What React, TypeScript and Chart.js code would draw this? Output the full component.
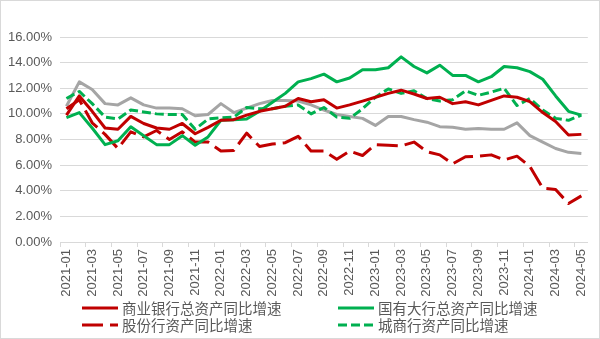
import { useEffect, useRef } from "react";
import { Chart, registerables } from "chart.js";

Chart.register(...registerables);

const months = [
  "2021-01", "2021-02", "2021-03", "2021-04", "2021-05", "2021-06", "2021-07", "2021-08", "2021-09", "2021-10", "2021-11", "2021-12",
  "2022-01", "2022-02", "2022-03", "2022-04", "2022-05", "2022-06", "2022-07", "2022-08", "2022-09", "2022-10", "2022-11", "2022-12",
  "2023-01", "2023-02", "2023-03", "2023-04", "2023-05", "2023-06", "2023-07", "2023-08", "2023-09", "2023-10", "2023-11", "2023-12",
  "2024-01", "2024-02", "2024-03", "2024-04", "2024-05",
];

const commercialBanks = [
  9.9, 11.4, 10.2, 8.9, 8.8, 9.8, 9.25, 8.9, 8.8, 9.25, 8.45, 8.95,
  9.5, 9.55, 9.9, 10.2, 10.4, 10.6, 11.2, 10.95, 11.1, 10.45, 10.7, 11.0,
  11.3, 11.6, 11.85, 11.55, 11.2, 11.3, 10.8, 10.95, 10.7, 11.05, 11.4, 11.3,
  10.95, 10.1, 9.4, 8.35, 8.4,
];

const stateOwnedBanks = [
  9.7, 10.1, 8.9, 7.6, 7.9, 9.0, 8.3, 7.6, 7.6, 8.3, 7.55, 8.2,
  9.5, 9.55, 9.6, 10.2, 10.9, 11.6, 12.5, 12.75, 13.1, 12.5, 12.8, 13.45,
  13.45, 13.6, 14.45, 13.7, 13.2, 13.8, 13.0, 13.0, 12.5, 12.9, 13.7, 13.6,
  13.3, 12.7, 11.4, 10.2, 9.9,
];

const jointStockBanks = [
  10.4, 11.1, 9.3, 8.4, 7.3, 8.6, 8.2, 8.7, 8.0, 8.6, 7.8, 7.8,
  7.1, 7.15, 8.5, 7.45, 7.65, 7.75, 8.25, 7.1, 7.1, 6.45, 7.1, 6.75,
  7.6, 7.55, 7.5, 7.8, 7.05, 6.8, 6.1, 6.65, 6.7, 6.8, 6.4, 6.7,
  5.9, 4.2, 4.1, 3.0, 3.6,
];

const cityBanks = [
  11.2, 11.75, 10.8, 9.75, 9.6, 10.3, 10.15, 10.0, 9.95, 9.95, 8.8, 9.6,
  9.7, 9.75, 10.5, 10.4, 10.4, 10.6, 10.7, 10.0, 10.5, 9.75, 9.65, 10.4,
  11.3, 11.95, 11.6, 11.8, 11.2, 11.0, 11.1, 11.8, 11.45, 11.7, 12.0, 10.65,
  11.2, 10.3, 9.65, 9.5, 9.9,
];

const greySeries = [
  10.6, 12.5, 11.9, 10.8, 10.7, 11.25, 10.7, 10.45, 10.45, 10.4, 9.85, 9.95,
  10.8, 10.1, 10.45, 10.8, 11.05, 11.05, 11.0, 10.7, 10.3, 9.95, 9.8, 9.65,
  9.1, 9.8, 9.8, 9.55, 9.35, 9.0, 8.95, 8.8, 8.85, 8.8, 8.8, 9.3,
  8.3, 7.8, 7.3, 7.0, 6.9,
];

const yTicks = [0, 2, 4, 6, 8, 10, 12, 14, 16];

const seriesNames = [
  "商业银行总资产同比增速",
  "国有大行总资产同比增速",
  "股份行资产同比增速",
  "城商行资产同比增速",
];

const RED = "#C00000";
const GREEN = "#00B050";
const GREY = "#A5A5A5";
const TEXT = "#595959";
const GRID = "#D9D9D9";

const legendPlugin = {
  id: "twoColumnLegend",
  afterDraw(chart: any) {
    const ctx = chart.ctx as CanvasRenderingContext2D;
    const items = chart.data.datasets.filter((d: any) => d.inLegend);
    ctx.save();
    ctx.font = '14.5px "Noto Sans CJK SC"';
    ctx.textBaseline = "middle";
    ctx.textAlign = "left";
    items.forEach((d: any, i: number) => {
      const col = i % 2;
      const row = Math.floor(i / 2);
      const x = 81 + col * 256;
      const y = 307 + row * 17;
      ctx.beginPath();
      ctx.setLineDash(d.borderDash || []);
      ctx.lineDashOffset = 0;
      ctx.strokeStyle = d.borderColor;
      ctx.lineWidth = 3;
      ctx.lineCap = "butt";
      ctx.moveTo(x, y);
      ctx.lineTo(x + 36, y);
      ctx.stroke();
      ctx.setLineDash([]);
      ctx.fillStyle = TEXT;
      ctx.fillText(d.label, x + 40, y + 0.5);
    });
    ctx.restore();
  },
};

export default function App() {
  const ref = useRef<HTMLCanvasElement>(null);

  useEffect(() => {
    document.body.style.margin = "0";
    const canvas = ref.current!;
    const line = (label: string, data: number[], color: string, dash: number[], inLegend: boolean) => ({
      label,
      data,
      borderColor: color,
      backgroundColor: color,
      borderWidth: 3,
      borderDash: dash,
      borderCapStyle: "butt",
      borderJoinStyle: "round",
      pointRadius: 0,
      pointHoverRadius: 0,
      tension: 0,
      fill: false,
      inLegend,
    });

    const chart = new Chart(canvas, {
      type: "line",
      data: {
        labels: months,
        datasets: [
          line(seriesNames[0], commercialBanks, RED, [], true),
          line(seriesNames[1], stateOwnedBanks, GREEN, [], true),
          line(seriesNames[2], jointStockBanks, RED, [21, 7], true),
          line(seriesNames[3], cityBanks, GREEN, [9, 4], true),
          line("", greySeries, GREY, [], false),
        ] as any,
      },
      options: {
        responsive: false,
        animation: false,
        layout: { padding: { left: 0, top: 36, right: 3, bottom: 36 } },
        plugins: {
          legend: { display: false },
          tooltip: { enabled: false },
        },
        scales: {
          x: {
            type: "category",
            offset: true,
            grid: {
              display: true,
              drawOnChartArea: false,
              drawTicks: true,
              tickLength: 5,
              offset: true,
              color: (c: any) => (c.index % 2 === 0 ? GRID : "rgba(0,0,0,0)"),
            },
            border: { display: true, color: GRID, width: 1 },
            ticks: {
              autoSkip: false,
              maxRotation: 90,
              minRotation: 90,
              padding: 2,
              color: TEXT,
              font: { family: '"Liberation Sans", Arial, sans-serif', size: 13 },
              callback: (_v: any, i: number) => (i % 2 === 0 ? months[i] : ""),
            },
            afterFit: (s: any) => {
              s.height = 60;
            },
          },
          y: {
            min: yTicks[0],
            max: yTicks[yTicks.length - 1],
            afterBuildTicks: (s: any) => {
              s.ticks = yTicks.map((v) => ({ value: v }));
            },
            grid: { color: GRID, drawTicks: false, lineWidth: 1 },
            border: { display: false },
            ticks: {
              padding: 8,
              color: TEXT,
              font: { family: '"Liberation Sans", Arial, sans-serif', size: 13 },
              callback: (v: any) => Number(v).toFixed(2) + "%",
            },
            afterFit: (s: any) => {
              s.width = 59;
            },
          },
        },
      },
      plugins: [legendPlugin],
    });
    return () => chart.destroy();
  }, []);

  return (
    <div
      style={{
        position: "relative",
        width: 600,
        height: 339,
        boxSizing: "border-box",
        border: "1px solid #D9D9D9",
        background: "#fff",
      }}
    >
      <canvas ref={ref} width={598} height={337} style={{ display: "block" }} />
    </div>
  );
}
